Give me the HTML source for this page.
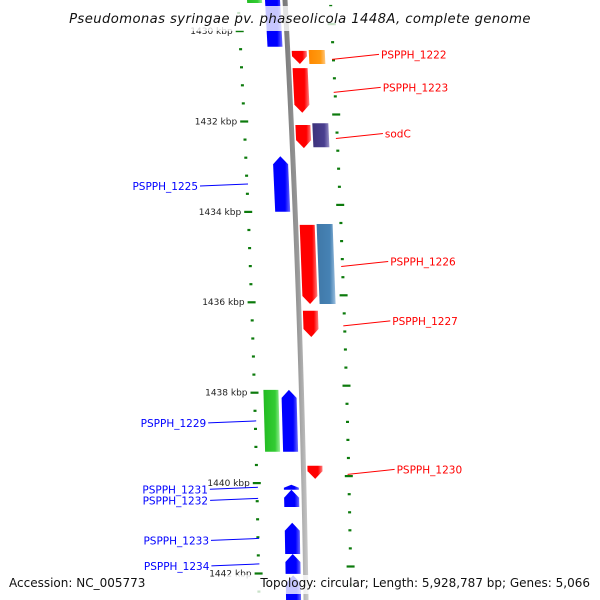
<!DOCTYPE html>
<html><head><meta charset="utf-8"><style>
html,body{margin:0;padding:0;background:#fff;}
svg{display:block;font-family:"DejaVu Sans","Liberation Sans",sans-serif;}
</style></head><body>
<svg id="chart" width="600" height="600" viewBox="0 0 600 600" xmlns="http://www.w3.org/2000/svg">
<defs>
<linearGradient id="g-red" x1="0" x2="1"><stop offset="0" stop-color="#ff0000"/><stop offset="0.7" stop-color="#ff0000"/><stop offset="1" stop-color="#ff8080"/></linearGradient>
<linearGradient id="g-blue" x1="0" x2="1"><stop offset="0" stop-color="#0000ff"/><stop offset="0.7" stop-color="#0000ff"/><stop offset="1" stop-color="#6a6aff"/></linearGradient>
<linearGradient id="g-green" x1="0" x2="1"><stop offset="0" stop-color="#22bb22"/><stop offset="0.7" stop-color="#33cc33"/><stop offset="1" stop-color="#99ee99"/></linearGradient>
<linearGradient id="g-orange" x1="0" x2="1"><stop offset="0" stop-color="#ff8800"/><stop offset="0.7" stop-color="#ff9a10"/><stop offset="1" stop-color="#ffc880"/></linearGradient>
<linearGradient id="g-purple" x1="0" x2="1"><stop offset="0" stop-color="#3c327a"/><stop offset="0.7" stop-color="#4a3f90"/><stop offset="1" stop-color="#9a92c8"/></linearGradient>
<linearGradient id="g-steel" x1="0" x2="1"><stop offset="0" stop-color="#3f78a8"/><stop offset="0.7" stop-color="#4682b4"/><stop offset="1" stop-color="#9cc0e0"/></linearGradient>
<linearGradient id="g-back" x1="0" x2="1"><stop offset="0" stop-color="#777"/><stop offset="0.6" stop-color="#999"/><stop offset="1" stop-color="#ccc"/></linearGradient>
</defs>
<g id="ticks"></g>
<g id="backbone"></g>
<g id="genes"></g>
<g id="labels"></g>
<g id="overlay"></g>
</svg>
<script>
// ---- data ----
const tickStart = 1429.2;
const tickEnd = 1442.8;
const majorTicks = [1430, 1432, 1434, 1436, 1438, 1440, 1442];
const tickLabels = ["1430 kbp","1432 kbp","1434 kbp","1436 kbp","1438 kbp","1440 kbp","1442 kbp"];
const geneNames  = ["top-green","top-blue","PSPPH_1222","orange-feature","PSPPH_1223","sodC","purple-feature","PSPPH_1225","PSPPH_1226","steelblue-feature","PSPPH_1227","green-feature","PSPPH_1229","PSPPH_1230","PSPPH_1231","PSPPH_1232","PSPPH_1233","PSPPH_1234","next-blue"];
const geneStart  = [1429.09,1429.09,1430.44,1430.42,1430.82,1432.08,1432.04,1432.77,1434.29,1434.27,1436.19,1437.94,1437.94,1439.62,1440.04,1440.15,1440.88,1441.57,1442.04];
const geneEnd    = [1429.38,1430.35,1430.73,1430.73,1431.81,1432.59,1432.57,1434.00,1436.04,1436.04,1436.77,1439.31,1439.31,1439.91,1440.15,1440.53,1441.57,1442.01,1442.81];
const geneTrack  = ["green","blue","red","second","red","red","second","blue","red","second","red","green","blue","red","blue","blue","blue","blue","blue"];
const geneFill   = ["g-green","g-blue","g-red","g-orange","g-red","g-red","g-purple","g-blue","g-red","g-steel","g-red","g-green","g-blue","g-red","g-blue","g-blue","g-blue","g-blue","g-blue"];
const geneDir    = [0,-1,1,0,1,1,0,-1,1,0,1,0,-1,1,-1,-1,-1,-1,-1];
const labelText  = ["PSPPH_1222","PSPPH_1223","sodC","PSPPH_1226","PSPPH_1227","PSPPH_1230","PSPPH_1225","PSPPH_1229","PSPPH_1231","PSPPH_1232","PSPPH_1233","PSPPH_1234"];
const labelColor = ["red","red","red","red","red","red","blue","blue","blue","blue","blue","blue"];
const labelGene  = ["PSPPH_1222","PSPPH_1223","sodC","PSPPH_1226","PSPPH_1227","PSPPH_1230","PSPPH_1225","PSPPH_1229","PSPPH_1231","PSPPH_1232","PSPPH_1233","PSPPH_1234"];

// ---- layout ----
const NS = "http://www.w3.org/2000/svg";
function yOf(k){ return 31 + (k - 1430) * 45.2; }
function bx(y){ return 285 + 0.055*y - 0.0000333*y*y; }
const tracks = {green:[-38,-23], blue:[-20,-5], red:[4,19], second:[21,37]};
function mk(tag, attrs, parent){ const e=document.createElementNS(NS,tag); for(const k in attrs) e.setAttribute(k,attrs[k]); parent.appendChild(e); return e; }

// backbone
const bb = document.getElementById('backbone');
let d = "";
for(let y=-5;y<=605;y+=5){ d += (y===-5?"M":"L") + (bx(y)-2.5).toFixed(2)+","+y+" "; }
for(let y=605;y>=-5;y-=5){ d += "L"+(bx(y)+2.5).toFixed(2)+","+y+" "; }
const bbp = mk('path',{d:d+"Z",fill:"url(#g-back)"},bb);



// ticks
const tg = document.getElementById('ticks');
for(let i=0;;i++){
  const k = tickStart + i*0.4;
  if(k > tickEnd+0.01) break;
  const isMajor = majorTicks.some(m=>Math.abs(m-k)<0.05);
  const y = yOf(k);
  const lx = bx(y) - 47, rx = bx(y) + 45, ry = y - 7;
  const w = isMajor ? 8 : 3;
  const l = mk('rect',{x:(lx-w/2).toFixed(1),y:(y-1).toFixed(1),width:w,height:2.2,fill:"#0c7a0c"},tg);
  
  
  const r = mk('rect',{x:(rx-w/2).toFixed(1),y:(ry-1).toFixed(1),width:w,height:2.2,fill:"#0c7a0c"},tg);
  
  
}
majorTicks.forEach((m,i)=>{
  const y = yOf(m);
  const t = mk('text',{x:(bx(y)-54).toFixed(1),y:(y+3).toFixed(1),"text-anchor":"end","font-size":"9",fill:"#222"},tg);
  t.textContent = tickLabels[i];
  
  
});

// genes
const gg = document.getElementById('genes');
const geneMid = {};
geneNames.forEach((n,i)=>{
  const y1 = yOf(geneStart[i]), y2 = yOf(geneEnd[i]);
  const [o1,o2] = tracks[geneTrack[i]];
  const b1 = bx(y1), b2 = bx(y2);
  const head = Math.min(8, (y2-y1)*0.6);
  let pts;
  if(geneDir[i]===1){ // arrow down
    const yh = y2 - head, bh = bx(yh), bm = bx(y2);
    pts = [[b1+o1,y1],[b1+o2,y1],[bh+o2,yh],[bm+(o1+o2)/2,y2],[bh+o1,yh]];
  } else if(geneDir[i]===-1){ // arrow up
    const yh = y1 + head, bh = bx(yh), bm = bx(y1);
    pts = [[bm+(o1+o2)/2,y1],[bh+o2,yh],[b2+o2,y2],[b2+o1,y2],[bh+o1,yh]];
  } else {
    pts = [[b1+o1,y1],[b1+o2,y1],[b2+o2,y2],[b2+o1,y2]];
  }
  const p = mk('polygon',{points:pts.map(q=>q[0].toFixed(1)+","+q[1].toFixed(1)).join(" "),fill:"url(#"+geneFill[i]+")"},gg);
  
  
  const ym = (y1+y2)/2;
  geneMid[n] = {y:ym, right:bx(ym)+48, left:bx(ym)-46};
});

// labels
const lg = document.getElementById('labels');
labelText.forEach((t,i)=>{
  const g = geneMid[labelGene[i]];
  const col = labelColor[i]==="red" ? "#ff0000" : "#0000ff";
  let x1,y1,x2,y2,tx,anchor;
  if(labelColor[i]==="red"){
    x1 = g.right - 4; y1 = g.y + 2; x2 = x1 + 47; y2 = g.y - 3; tx = x2 + 2; anchor="start";
  } else {
    x1 = g.left; y1 = g.y; x2 = x1 - 48; y2 = g.y + 2; tx = x2 - 2; anchor="end";
  }
  const ln = mk('line',{x1:x1.toFixed(1),y1:y1.toFixed(1),x2:x2.toFixed(1),y2:y2.toFixed(1),stroke:col,"stroke-width":"1"},lg);
  
  
  const te = mk('text',{x:tx.toFixed(1),y:(y2+4).toFixed(1),"text-anchor":anchor,"font-size":"10.5",fill:col},lg);
  te.textContent = t;
  
  
});

// overlays
const ov = document.getElementById('overlay');
const tb = mk('rect',{x:66,y:6,width:466,height:25,fill:"#fff","fill-opacity":"0.78"},ov);


const tt = mk('text',{x:300,y:23,"text-anchor":"middle","font-size":"13.2","font-style":"italic",fill:"#111","letter-spacing":"0.4"},ov);
tt.textContent = "Pseudomonas syringae pv. phaseolicola 1448A, complete genome";


const bb2 = mk('rect',{x:226,y:575,width:374,height:19,fill:"#fff","fill-opacity":"0.78"},ov);


const ab = mk('text',{x:9,y:587,"font-size":"12",fill:"#111"},ov);
ab.textContent = "Accession: NC_005773";


const tp = mk('text',{x:590,y:587,"text-anchor":"end","font-size":"12",fill:"#111"},ov);
tp.textContent = "Topology: circular; Length: 5,928,787 bp; Genes: 5,066";


</script>
</body></html>
